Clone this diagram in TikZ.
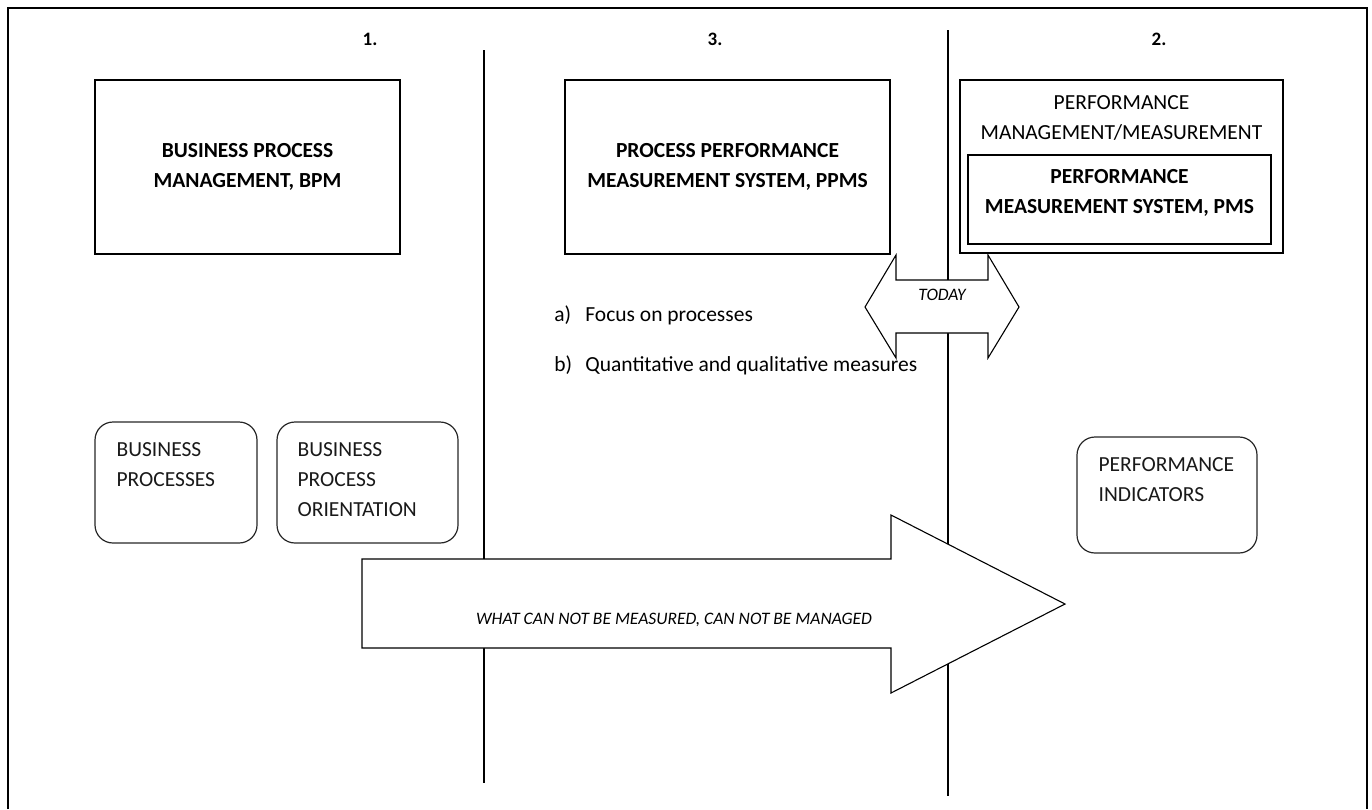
\documentclass[tikz,border=0pt]{standalone}
\usepackage{fontspec}
\setmainfont{Carlito}
\usetikzlibrary{positioning}

\begin{document}
\fontsize{21.5}{30}\selectfont
\begin{tikzpicture}[x=1pt, y=-1pt,
		basic/.style    = {draw, rectangle, inner sep=0pt, align=center},
		bigbox/.style   = {basic, line width=1.8pt, minimum height=174pt, font=\bfseries},
		outerbox/.style = {basic, line width=1.8pt},
		procbox/.style  = {basic, line width=1.2pt, draw=black!85, rounded corners=18pt, minimum height=121pt},
		boxtext/.style  = {align=left, inner sep=0pt, text=black!90},
		divider/.style  = {line width=1.3pt},
		arrowshape/.style = {draw, line width=1.1pt, fill=white, line join=miter},
		number/.style   = {font=\fontsize{19}{22}\selectfont\bfseries},
		smallit/.style  = {font=\fontsize{17.5}{20}\selectfont\itshape}]
		
		\useasboundingbox (0,0) rectangle (1372,809);
		
		% Frame, open at the bottom
		\draw[line width=2.4pt] (8,809) -- (8,8) -- (1367,8) -- (1367,809);
		
		% Column numbers
		\node[number] (n1) at (370,39) {1.};
		\node[number] (n3) at (715,39) {3.};
		\node[number] (n2) at (1159,39) {2.};
		
		% Dividers between the columns
		\coordinate (d1top) at (484,50);
		\coordinate (d1bot) at (484,783);
		\coordinate (d2top) at (948,30);
		\coordinate (d2bot) at (948,796);
		\draw[divider] (d1top) -- (d1bot);
		\draw[divider] (d2top) -- (d2bot);
		
		% Big arrow across the columns
		\draw[arrowshape] (362,559) -- (891,559) -- (891,515) -- (1065,604) -- (891,693) -- (891,648) -- (362,648) -- cycle;
		\node[smallit] (motto) at (674,620) {WHAT CAN NOT BE MEASURED, CAN NOT BE MANAGED};
		
		% Double arrow at the second divider
		\draw[arrowshape] (865,307) -- (896,255) -- (896,280) -- (988,280) -- (988,255) -- (1019,307) -- (988,358) -- (988,333) -- (896,333) -- (896,358) -- cycle;
		\node[smallit] (today) at (942,295) {TODAY};
		
		% Main boxes, one per column
		\node[bigbox, minimum width=305pt] (bpm) at (247.5,167) {BUSINESS PROCESS\\MANAGEMENT, BPM};
		\node[bigbox, minimum width=325pt] (ppms) at (727.5,167) {PROCESS PERFORMANCE\\MEASUREMENT SYSTEM, PPMS};
		
		\node[outerbox, minimum width=323pt, minimum height=173pt] (pm) at (1121.5,166.5) {};
		\node[align=center, inner sep=0pt] (pmtext) at (1121.5,118) {PERFORMANCE\\MANAGEMENT/MEASUREMENT};
		\node[outerbox, minimum width=303pt, minimum height=89pt] (pms) at (1119.5,199.5) {};
		\node[align=center, inner sep=0pt, font=\bfseries] (pmstext) at (pms.center) [yshift=7pt] {PERFORMANCE\\MEASUREMENT SYSTEM, PMS};
		
		% Points under column 3
		\node[anchor=west] (focus) at (547,315) {\makebox[31pt][l]{a)}Focus on processes};
		\node[anchor=west] (measures) at (547,365) {\makebox[31pt][l]{b)}Quantitative and qualitative measures};
		
		% Rounded boxes
		\node[procbox, minimum width=162pt] (bp) at (176,482.5) {};
		\node[boxtext, below right=21pt and 22pt of bp.north west] (bptext) {BUSINESS\\PROCESSES};
		
		\node[procbox, minimum width=181pt] (bpo) at (367.5,482.5) {};
		\node[boxtext, below right=21pt and 21pt of bpo.north west] (bpotext) {BUSINESS\\PROCESS\\ORIENTATION};
		
		\node[procbox, minimum width=180pt, minimum height=116pt] (pi) at (1167,495) {};
		\node[boxtext, below right=21pt and 22pt of pi.north west] (pitext) {PERFORMANCE\\INDICATORS};
		
	\end{tikzpicture}
\end{document}
